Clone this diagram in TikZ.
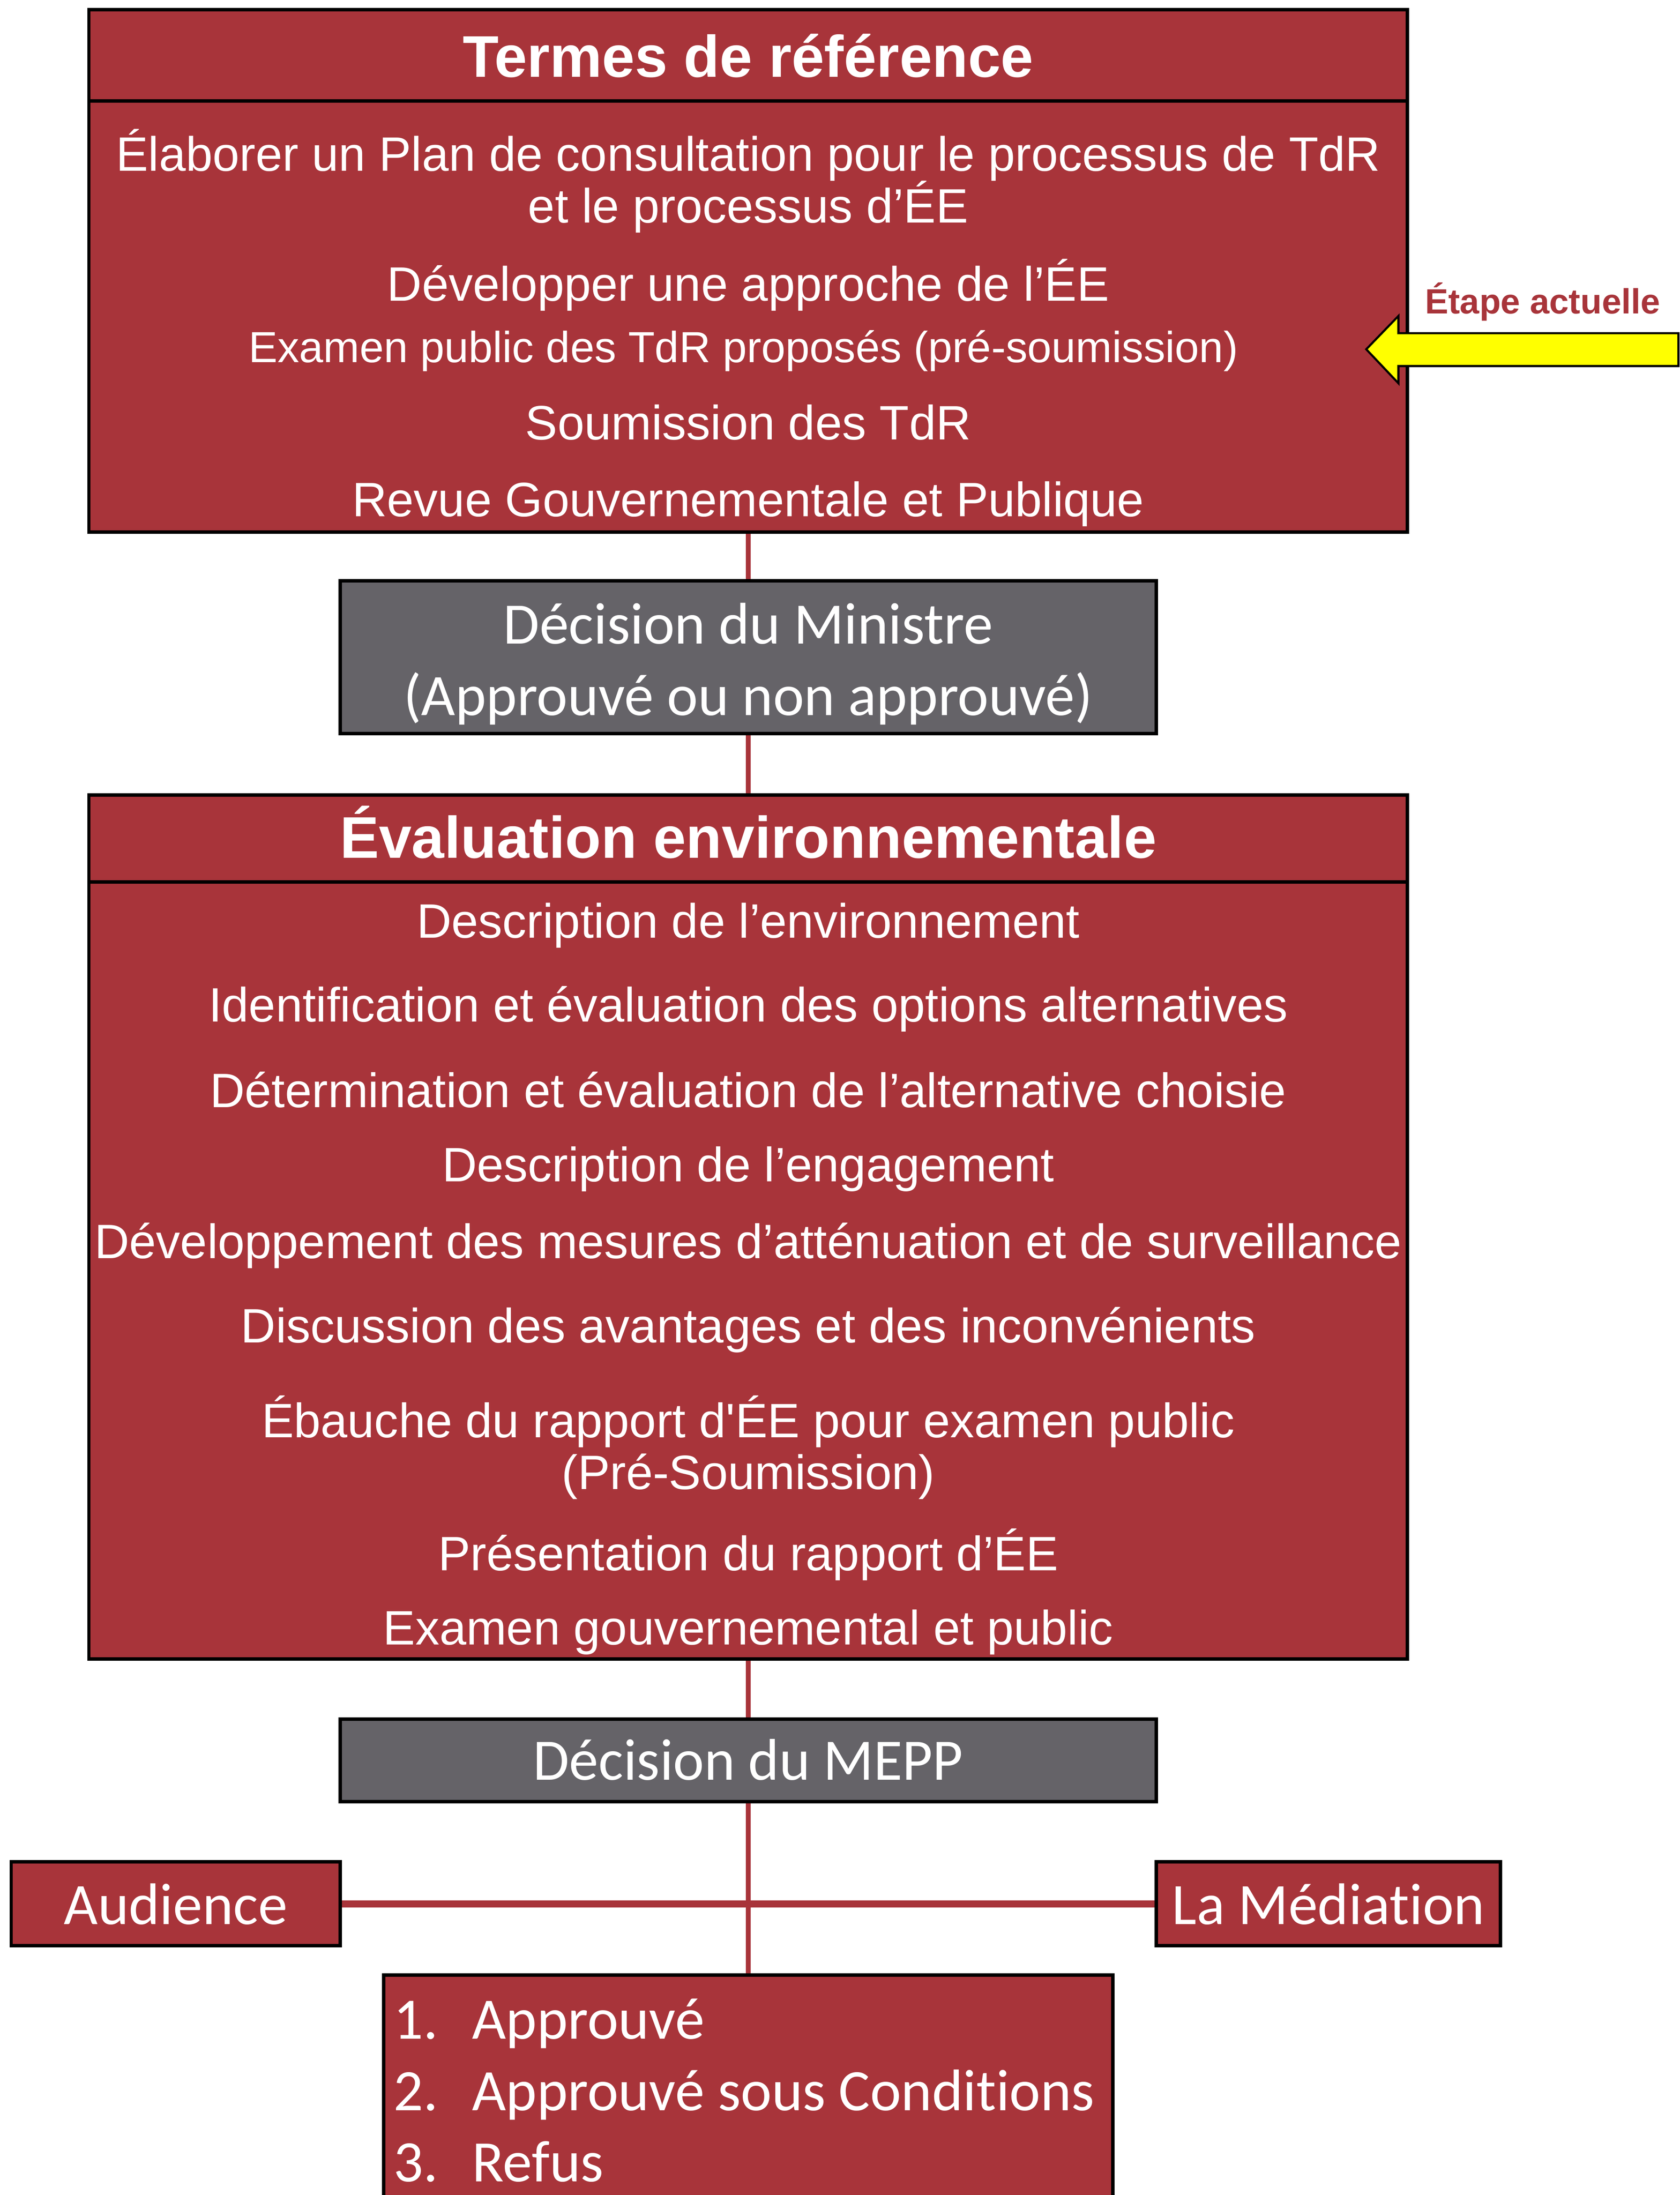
\documentclass[tikz,border=0pt]{standalone}
\usepackage{fontspec}
\setmainfont{Liberation Sans}
\newfontfamily\calibf[Ligatures={NoCommon}]{Carlito}
\usetikzlibrary{backgrounds}
\definecolor{boxred}{RGB}{168,52,58}
\definecolor{boxgray}{RGB}{101,99,104}
\definecolor{arrowyellow}{RGB}{255,255,0}
\begin{document}
\begin{tikzpicture}[x=1pt,y=-1pt,
 redbox/.style={draw=black, fill=boxred, line width=2.5pt, inner sep=0pt, outer sep=0pt},
 graybox/.style={draw=black, fill=boxgray, line width=2.5pt, inner sep=0pt, outer sep=0pt},
 titletext/.style={text=white, font=\fontsize{42}{48}\selectfont\bfseries, anchor=base, inner sep=0pt},
 bodytext/.style={text=white, font=\fontsize{34.5}{40}\selectfont, anchor=base, inner sep=0pt},
 smalltext/.style={text=white, font=\fontsize{31.1}{36}\selectfont, anchor=base, inner sep=0pt},
 caltext/.style={text=white, font=\calibf\fontsize{42}{48}\selectfont, anchor=base, inner sep=0pt},
 listtext/.style={text=white, font=\calibf\fontsize{42}{48}\selectfont, anchor=base west, inner sep=0pt},
 notetext/.style={text=boxred, font=\fontsize{25}{30}\selectfont\bfseries, anchor=base, inner sep=0pt},
 link/.style={draw=boxred, line width=3.2pt},
 hlink/.style={draw=boxred, line width=5pt},
 pointer/.style={draw=black, fill=arrowyellow, line width=1.5pt, line join=miter},
]
\useasboundingbox (0,0) rectangle (1200,1568);

% Termes de reference
\node[redbox, minimum width=942pt, minimum height=65pt] (tortitle) at (534.5,39.5) {};
\node[redbox, minimum width=942pt, minimum height=308pt] (torbody) at (534.5,226) {};
\node[titletext] (tt) at (534.5,55) {Termes de référence};
\node[bodytext] (t1) at (534.5,122) {Élaborer un Plan de consultation pour le processus de TdR};
\node[bodytext] (t2) at (534.5,159) {et le processus d’ÉE};
\node[bodytext] (t3) at (534.5,215) {Développer une approche de l’ÉE};
\node[smalltext] (t4) at (531,259) {Examen public des TdR proposés (pré-soumission)};
\node[bodytext] (t5) at (534.5,314) {Soumission des TdR};
\node[bodytext] (t6) at (534.5,369) {Revue Gouvernementale et Publique};

% Decision du Ministre
\node[graybox, minimum width=583pt, minimum height=109pt] (gray1) at (534.5,469.5) {};
\node[caltext] (g1a) at (534.5,460) {Décision du Ministre};
\node[caltext] (g1b) at (534.5,511) {(Approuvé ou non approuvé)};

% Evaluation environnementale
\node[redbox, minimum width=942pt, minimum height=62pt] (eetitle) at (534.5,599) {};
\node[redbox, minimum width=942pt, minimum height=555pt] (eebody) at (534.5,907.5) {};
\node[titletext] (et) at (534.5,613) {Évaluation environnementale};
\node[bodytext] (e1) at (534.5,670) {Description de l’environnement};
\node[bodytext] (e2) at (534.5,730) {Identification et évaluation des options alternatives};
\node[bodytext] (e3) at (534.5,791) {Détermination et évaluation de l’alternative choisie};
\node[bodytext] (e4) at (534.5,844) {Description de l’engagement};
\node[bodytext] (e5) at (534.5,899) {Développement des mesures d’atténuation et de surveillance};
\node[bodytext] (e6) at (534.5,959) {Discussion des avantages et des inconvénients};
\node[bodytext] (e7) at (534.5,1027) {Ébauche du rapport d\textquotesingle ÉE pour examen public};
\node[bodytext] (e8) at (534.5,1064) {(Pré-Soumission)};
\node[bodytext] (e9) at (534.5,1122) {Présentation du rapport d’ÉE};
\node[bodytext] (e10) at (534.5,1175) {Examen gouvernemental et public};

% Decision du MEPP
\node[graybox, minimum width=583pt, minimum height=59pt] (gray2) at (534.5,1257.5) {};
\node[caltext] (g2) at (534.5,1271.5) {Décision du MEPP};

% Audience / Mediation
\node[redbox, minimum width=235pt, minimum height=60pt] (aud) at (125.5,1360) {};
\node[caltext] (audt) at (125.5,1374.5) {Audience};
\node[redbox, minimum width=246pt, minimum height=60pt] (med) at (949,1360) {};
\node[caltext] (medt) at (949,1374.5) {La Médiation};

% Result
\node[redbox, minimum width=521pt, minimum height=169pt] (res) at (534.5,1495.5) {};
\node[listtext] (n1) at (281,1456.5) {1.};
\node[listtext] (r1) at (337,1456.5) {Approuvé};
\node[listtext] (n2) at (281,1507.5) {2.};
\node[listtext] (r2) at (337,1507.5) {Approuvé sous Conditions};
\node[listtext] (n3) at (281,1558.5) {3.};
\node[listtext] (r3) at (337,1558.5) {Refus};

% connectors
\begin{scope}[on background layer]
\fill[white] (0,0) rectangle (1200,1568);
\draw[link] (torbody.south) -- (gray1.north);
\draw[link] (gray1.south) -- (eetitle.north);
\draw[link] (eebody.south) -- (gray2.north);
\draw[link] (gray2.south) -- (res.north);
\draw[hlink] (aud.east) -- (med.west);
\end{scope}

% Etape actuelle
\node[notetext] (note) at (1102,224) {Étape actuelle};
\draw[pointer] (976,249.5) -- (999,225.7) -- (999,238) -- (1199,238) -- (1199,261.5) -- (999,261.5) -- (999,273.8) -- cycle;
\end{tikzpicture}
\end{document}
